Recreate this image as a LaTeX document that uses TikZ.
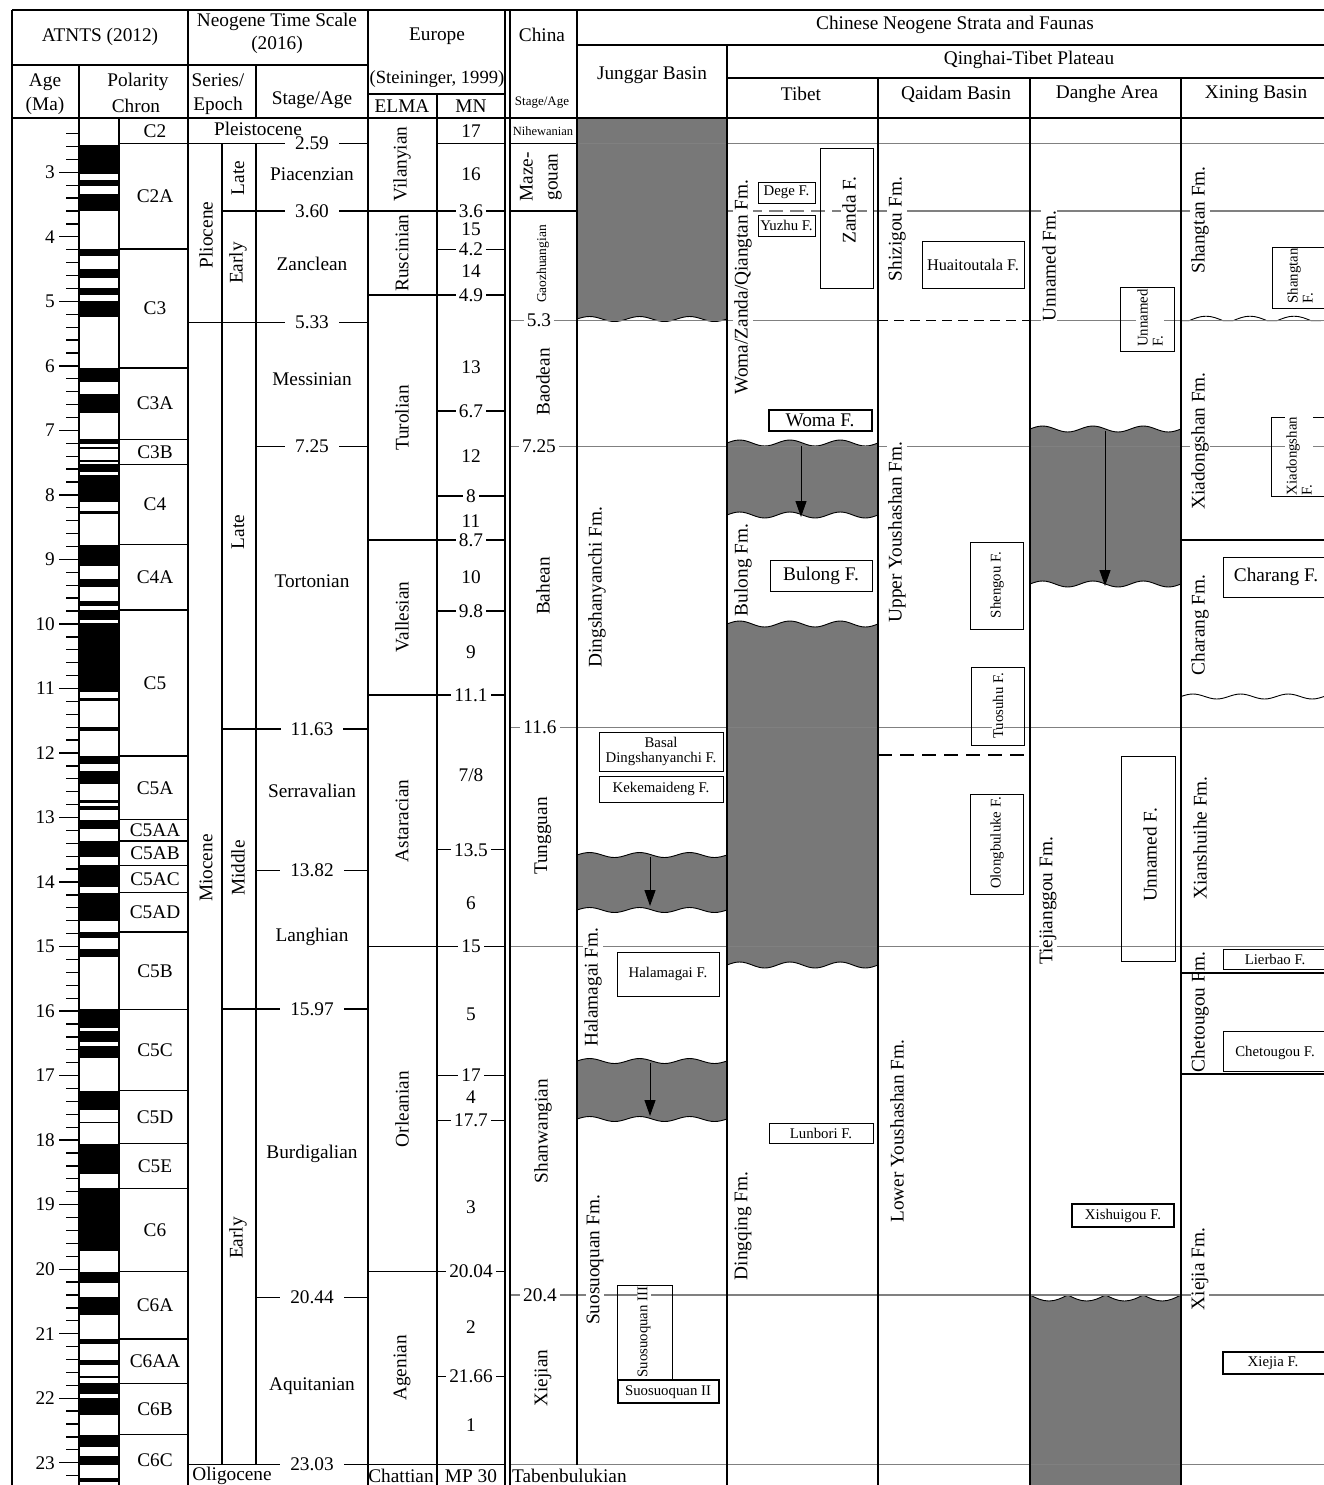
\documentclass[tikz,border=0pt]{standalone}
\usepackage{fontspec}
\setmainfont{Liberation Serif}
\usetikzlibrary{arrows.meta}
\definecolor{fillg}{gray}{0.47}
\definecolor{lineg}{gray}{0.5}
\newcommand\wavF[3]{\foreach \ww in {1,...,#1}{ sin ++(#2,-#3) cos ++(#2,#3) sin ++(#2,#3) cos ++(#2,-#3)}}
\newcommand\wavR[3]{\foreach \ww in {1,...,#1}{ sin ++(-#2,#3) cos ++(-#2,-#3) sin ++(-#2,-#3) cos ++(-#2,#3)}}
\newcommand\Ya[1]{172.3+(#1-3)*64.52}
\newcommand\bx[6][fb]{\node[#1,minimum width={(#5)-(#3)},minimum height={(#6)-(#4)}] (#2) at ({((#3)+(#5))/2},{((#4)+(#6))/2}) {};}
\begin{document}
\begin{tikzpicture}[x=1pt,y=-1pt,
  tl/.style={line width=1.3pt},
  gl/.style={draw=lineg,line width=1.1pt},
  T/.style={font=\fontsize{19.3}{21.5}\selectfont,inner sep=1pt,align=center},
  S/.style={font=\fontsize{14.8}{15}\selectfont,inner sep=1pt,align=center},
  V/.style={rotate=90},
  W/.style={fill=white},
  fb/.style={draw,line width=0.9pt,inner sep=0pt},
  fbm/.style={draw,line width=1.3pt,inner sep=0pt},
  fbt/.style={draw,line width=1.9pt,inner sep=0pt},
  arr/.style={line width=1pt,-{Triangle[length=16pt,width=11pt]}},
  wv/.style={line width=0.9pt},
  lab/.style={T,fill=white,inner xsep=10pt,inner ysep=0pt},
  labm/.style={T,fill=white,inner xsep=3pt,inner ysep=0pt}]
\useasboundingbox (0,0) rectangle (1324,1485);
\fill[white] (0,0) rectangle (1324,1485);

% ---------- gray fills with wavy edges ----------
\fill[fillg] (577,118) -- (727,118) -- (727,319) \wavR{3}{12.5}{2.5} -- cycle;
\draw[wv] (727,319) \wavR{3}{12.5}{2.5};
\fill[fillg] (577,855) \wavF{3}{12.5}{2.5} -- (727,910) \wavR{3}{12.5}{2.5} -- cycle;
\draw[wv] (577,855) \wavF{3}{12.5}{2.5};
\draw[wv] (577,910) \wavF{3}{12.5}{2.5};
\fill[fillg] (577,1061) \wavF{3}{12.5}{2.5} -- (727,1119) \wavR{3}{12.5}{2.5} -- cycle;
\draw[wv] (577,1061) \wavF{3}{12.5}{2.5};
\draw[wv] (577,1119) \wavF{3}{12.5}{2.5};
\fill[fillg] (727,443) \wavF{3}{12.58}{3} -- (878,515) \wavR{3}{12.58}{3} -- cycle;
\draw[wv] (727,443) \wavF{3}{12.58}{3};
\draw[wv] (727,515) \wavF{3}{12.58}{3};
\fill[fillg] (727,624) \wavF{3}{12.58}{3} -- (878,965) \wavR{3}{12.58}{3} -- cycle;
\draw[wv] (727,624) \wavF{3}{12.58}{3};
\draw[wv] (727,965) \wavF{3}{12.58}{3};
\fill[fillg] (1030,429) \wavF{3}{12.58}{3} -- (1181,584) \wavR{3}{12.58}{3} -- cycle;
\draw[wv] (1030,429) \wavF{3}{12.58}{3};
\draw[wv] (1030,584) \wavF{3}{12.58}{3};
\fill[fillg] (1030,1295) \foreach \ww in {1,...,4}{ sin ++(18.875,6) cos ++(18.875,-6)} -- (1181,1485) -- (1030,1485) -- cycle;
\draw[wv] (1030,1295) \foreach \ww in {1,...,4}{ sin ++(18.875,6) cos ++(18.875,-6)};
% Xining wavy unconformities
\draw[wv] (1181,320.7) -- ++(8,0) \foreach \ww in {1,2,3}{ sin ++(17,-4.5) cos ++(17,4.5) -- ++(10,0)};
\draw[wv] (1181,696.5) \wavF{3}{11.92}{2.5};

% ---------- polarity ----------
\foreach \a/\b in {2.581/3.032,3.116/3.207,3.330/3.596,4.187/4.300,4.493/4.631,4.799/4.896,4.997/5.235,6.033/6.252,6.436/6.733,7.140/7.212,7.251/7.285,7.454/7.489,7.528/7.642,7.695/8.108,8.254/8.300,8.771/9.105,9.311/9.426,9.647/9.721,9.786/9.937,9.984/11.056,11.146/11.188,11.592/11.657,12.049/12.174,12.272/12.474,12.735/12.770,12.829/12.887,13.032/13.183,13.363/13.608,13.739/14.070,14.163/14.609,14.775/14.870,15.032/15.160,15.974/16.268,16.303/16.472,16.543/16.721,17.235/17.533,17.717/17.740,18.056/18.524,18.748/19.722,20.040/20.213,20.439/20.709,21.083/21.159,21.403/21.483,21.659/21.688,21.767/21.936,21.992/22.268,22.564/22.754,22.902/23.030,23.233/23.295}
  {\fill (79,{\Ya{\a}}) rectangle (119,{\Ya{\b}});}
% age ticks
\foreach \i in {12,...,116} {\draw[tl] (66,{\Ya{\i/5}}) -- (79,{\Ya{\i/5}});}
\foreach \m in {3,...,23} {\draw[tl] (59,{\Ya{\m}}) -- (79,{\Ya{\m}});
  \node[T,anchor=east] (age\m) at (56,{\Ya{\m}}) {\m};}
% chron boundaries
\foreach \yy in {143.5,248.9,368.0,439.4,464.4,544.6,610.1,756.1,819.6,840.9,865.2,892.5,932.0,1009.4,1090.7,1143.7,1188.4,1271.7,1339.0,1383.2,1434.6}
  {\draw[tl] (119,\yy) -- (188,\yy);}
\foreach \n/\yc in {C2/130.8,C2A/196.2,C3/308.5,C3A/403.7,C3B/451.9,C4/504.5,C4A/577.4,C5/683.1,C5A/787.9,C5AA/830.3,C5AB/853.1,C5AC/878.9,C5AD/912.3,C5B/970.7,C5C/1050.1,C5D/1117.2,C5E/1166,C6/1230,C6A/1305.4,C6AA/1361.1,C6B/1408.9,C6C/1459.8}
  {\node[T] (ch\n) at (155,\yc) {\n};}

% ---------- long gray correlation lines ----------
\draw[gl] (577,143.5) -- (1324,143.5);
\draw[gl,dash pattern=on 14pt off 7pt] (727,211) -- (878,211);
\draw[gl] (878,211) -- (1324,211);
\draw[gl] (510,320.7) -- (878,320.7);
\draw[gl] (1030,320.7) -- (1324,320.7);
\draw[line width=1.3pt,dash pattern=on 10pt off 6pt] (878,320.7) -- (1030,320.7);
\draw[line width=1.5pt,dash pattern=on 14pt off 8pt] (878,755) -- (1030,755);
\foreach \yy in {446.5,727.2,946.5,1295,1464.6} {\draw[gl] (510,\yy) -- (1324,\yy);}

% ---------- table frame ----------
\draw[tl] (12,10) -- (1324,10);
\draw[tl] (12,65) -- (368,65);
\draw[tl] (368,94) -- (505,94);
\draw[tl] (577,45) -- (1324,45);
\draw[tl] (727,78) -- (1324,78);
\draw[tl] (12,118) -- (1324,118);
\draw[tl] (12,10) -- (12,1485);
\draw[tl] (79,65) -- (79,1485);
\draw[tl] (119,118) -- (119,1485);
\draw[tl] (188,10) -- (188,1485);
\draw[tl] (222,143.5) -- (222,1464.6);
\draw[tl] (256,65) -- (256,118);
\draw[tl] (256,143.5) -- (256,1464.6);
\foreach \xx in {368,505,510} {\draw[tl] (\xx,10) -- (\xx,1485);}
\draw[tl] (577,10) -- (577,1464.6);
\draw[tl] (437,94) -- (437,1485);
\draw[tl] (727,45) -- (727,1485);
\foreach \xx in {878,1030,1181} {\draw[tl] (\xx,78) -- (\xx,1485);}
\draw[tl] (510,143.5) -- (577,143.5);
\draw[tl] (510,211) -- (577,211);
\draw[tl] (1181,540.1) -- (1324,540.1);
\draw[tl] (1181,973) -- (1324,973);
\draw[tl] (1181,1074) -- (1324,1074);

% stage / MN boundaries
\draw[tl] (188,143.5) -- (368,143.5);
\draw[tl] (437,143.5) -- (505,143.5);
\draw[tl] (222,211) -- (505,211);
\draw[tl] (437,249.7) -- (505,249.7);
\draw[tl] (368,294.9) -- (505,294.9);
\draw[tl] (188,322.6) -- (368,322.6);
\draw[tl] (437,411) -- (505,411);
\draw[tl] (256,446.5) -- (368,446.5);
\draw[tl] (437,496) -- (505,496);
\draw[tl] (368,540.1) -- (505,540.1);
\draw[tl] (437,611) -- (505,611);
\draw[tl] (368,694.9) -- (505,694.9);
\draw[tl] (222,729.1) -- (368,729.1);
\draw[tl] (437,849.8) -- (505,849.8);
\draw[tl] (256,870.4) -- (368,870.4);
\draw[tl] (368,946.5) -- (505,946.5);
\draw[tl] (222,1009.1) -- (368,1009.1);
\draw[tl] (437,1075.6) -- (505,1075.6);
\draw[tl] (437,1120.7) -- (505,1120.7);
\draw[tl] (368,1271.7) -- (505,1271.7);
\draw[tl] (256,1297.5) -- (368,1297.5);
\draw[tl] (437,1376.2) -- (505,1376.2);
\draw[tl] (188,1464.6) -- (505,1464.6);

% boundary labels
\node[lab] (s259) at (312,143.5) {2.59};
\node[lab] (s360) at (312,211) {3.60};
\node[lab] (s533) at (312,322.6) {5.33};
\node[lab] (s725) at (312,446.5) {7.25};
\node[lab] (s1163) at (312,729.1) {11.63};
\node[lab] (s1382) at (312,870.4) {13.82};
\node[lab] (s1597) at (312,1009.1) {15.97};
\node[lab] (s2044) at (312,1297.5) {20.44};
\node[lab] (s2303) at (312,1464.6) {23.03};
\node[labm] (m36) at (471,211) {3.6};
\node[labm] (m42) at (471,249.7) {4.2};
\node[labm] (m49) at (471,294.9) {4.9};
\node[labm] (m67) at (471,411) {6.7};
\node[labm] (m8) at (471,496) {8};
\node[labm] (m87) at (471,540.1) {8.7};
\node[labm] (m98) at (471,611) {9.8};
\node[labm] (m111) at (471,694.9) {11.1};
\node[labm] (m135) at (471,849.8) {13.5};
\node[labm] (m15) at (471,946.5) {15};
\node[labm] (m17) at (471,1075.6) {17};
\node[labm] (m177) at (471,1120.7) {17.7};
\node[labm] (m2004) at (471,1271.7) {20.04};
\node[labm] (m2166) at (471,1376.2) {21.66};
\node[labm] (c53) at (539,320.7) {5.3};
\node[labm] (c725) at (539,446.5) {7.25};
\node[labm] (c116) at (540,727.2) {11.6};
\node[labm] (c204) at (540,1295) {20.4};

% ---------- arrows ----------
\coordinate (aJ1s) at (650,857); \coordinate (aJ1e) at (650,906);
\coordinate (aJ2s) at (650,1063); \coordinate (aJ2e) at (650,1116);
\coordinate (aTs) at (801,446); \coordinate (aTe) at (801,517);
\coordinate (aDs) at (1105,431); \coordinate (aDe) at (1105,586);
\draw[arr] (aJ1s) -- (aJ1e);
\draw[arr] (aJ2s) -- (aJ2e);
\draw[arr] (aTs) -- (aTe);
\draw[arr] (aDs) -- (aDe);

% ---------- header texts ----------
\node[T] (hATNTS) at (100,37) {ATNTS (2012)};
\node[T,font=\fontsize{19.3}{23.3}\selectfont] (hNTS) at (277,33.5) {Neogene Time Scale\\(2016)};
\node[T] (hEur) at (437,36) {Europe};
\node[T,inner sep=0pt,font=\fontsize{18.6}{20}\selectfont] (hStein) at (437,79) {(Steininger, 1999)};
\node[T] (hAge) at (45,82) {Age};
\node[T] (hMa) at (45,106) {(Ma)};
\node[T] (hPol) at (138,82) {Polarity};
\node[T] (hChron) at (136,106) {Chron};
\node[T] (hSer) at (218,80) {Series/};
\node[T] (hEpo) at (218,106) {Epoch};
\node[T] (hStage) at (312,100) {Stage/Age};
\node[T] (hELMA) at (402,106) {ELMA};
\node[T] (hMN) at (471,106) {MN};
\node[T] (hChina) at (542,35) {China};
\node[T,font=\fontsize{13}{14}\selectfont] (hCSA) at (542,103) {Stage/Age};
\node[T] (hCN) at (955,25) {Chinese Neogene Strata and Faunas};
\node[T] (hJB) at (652,75) {Junggar Basin};
\node[T] (hQTP) at (1029,60) {Qinghai-Tibet Plateau};
\node[T] (hTib) at (801,94) {Tibet};
\node[T] (hQai) at (956,94) {Qaidam Basin};
\node[T] (hDan) at (1107,94) {Danghe Area};
\node[T] (hXin) at (1256,94) {Xining Basin};

% ---------- series / stage ----------
\node[T] (tPleis) at (258,129) {Pleistocene};
\node[T,V] (tPlio) at (206,235) {Pliocene};
\node[T,V] (tPlLate) at (238,178) {Late};
\node[T,V] (tPlEarly) at (238,263) {Early};
\node[T,V] (tMio) at (206,868) {Miocene};
\node[T,V] (tMLate) at (238,532) {Late};
\node[T,V] (tMMid) at (238,868) {Middle};
\node[T,V] (tMEarly) at (238,1238) {Early};
\node[T] (tOlig) at (232,1476) {Oligocene};
\node[T] (tPiac) at (312,174) {Piacenzian};
\node[T] (tZanc) at (312,264) {Zanclean};
\node[T] (tMess) at (312,379) {Messinian};
\node[T] (tTort) at (312,581) {Tortonian};
\node[T] (tSerr) at (312,791) {Serravalian};
\node[T] (tLang) at (312,937) {Langhian};
\node[T] (tBurd) at (312,1154) {Burdigalian};
\node[T] (tAqui) at (312,1386) {Aquitanian};

% ---------- ELMA / MN ----------
\node[T,V] (eVil) at (402,164) {Vilanyian};
\node[T,V] (eRus) at (402,253) {Ruscinian};
\node[T,V] (eTur) at (402,418) {Turolian};
\node[T,V] (eVal) at (402,617) {Vallesian};
\node[T,V] (eAst) at (402,821) {Astaracian};
\node[T,V] (eOrl) at (402,1109) {Orleanian};
\node[T,V] (eAge) at (402,1368) {Agenian};
\node[T] (eChat) at (401,1476) {Chattian};
\foreach \n/\yc in {17/131,16/174,15/229,14/271,13/367,12/456,11/521,10/577,9/652,1/1425,2/1327,3/1207,4/1097,5/1014,6/903}
  {\node[T] (mn\n) at (471,\yc) {\n};}
\node[T] (mn78) at (471,775) {7/8};
\node[T] (mnMP) at (471,1476) {MP 30};

% ---------- China stages ----------
\node[T,font=\fontsize{12.5}{13}\selectfont] (tNihe) at (543,131) {Nihewanian};
\node[T,V,font=\fontsize{19.3}{25}\selectfont] (tMaze) at (541,177) {Maze-\\gouan};
\node[T,V,font=\fontsize{13.5}{14}\selectfont] (tGaoz) at (543,264) {Gaozhuangian};
\node[T,V] (tBaod) at (543,382) {Baodean};
\node[T,V] (tBahe) at (543,586) {Bahean};
\node[T,V] (tTung) at (543,836) {Tungguan};
\node[T,V] (tShanw) at (543,1131) {Shanwangian};
\node[T,V] (tXiejian) at (543,1378) {Xiejian};
\node[T,anchor=west] (tTaben) at (511,1476) {Tabenbulukian};

% ---------- formation labels ----------
\node[T,V,W] (fDing) at (597,587) {Dingshanyanchi Fm.};
\node[T,V,W] (fHala) at (593,987) {Halamagai Fm.};
\node[T,V,W] (fSuos) at (595,1260) {Suosuoquan Fm.};
\node[T,V,W] (fWoma) at (743,287) {Woma/Zanda/Qiangtan Fm.};
\node[T,V,W] (fBulong) at (743,570) {Bulong Fm.};
\node[T,V,W] (fDingq) at (743,1226) {Dingqing Fm.};
\node[T,V,W] (fShiz) at (897,229) {Shizigou Fm.};
\node[T,V,W] (fUpYou) at (897,532) {Upper Youshashan Fm.};
\node[T,V,W] (fLoYou) at (897,1131) {Lower Youshashan Fm.};
\node[T,V,W] (fUnFm) at (1049,266) {Unnamed Fm.};
\node[T,V,W] (fTiej) at (1048,901) {Tiejianggou Fm.};
\node[T,V,W] (fShangt) at (1200,220) {Shangtan Fm.};
\node[T,V,W] (fXiad) at (1200,441) {Xiadongshan Fm.};
\node[T,V,W] (fChar) at (1200,625) {Charang Fm.};
\node[T,V,W] (fXians) at (1200,838) {Xianshuihe Fm.};
\node[T,V] (fChet) at (1200,1012) {Chetougou Fm.};
\node[T,V,W] (fXiej) at (1200,1269) {Xiejia Fm.};

% ---------- fauna boxes ----------
\bx{bBasal}{599}{732}{723}{771}
\node[S] (tBasal) at (661,751.5) {Basal\\Dingshanyanchi F.};
\bx{bKeke}{599}{776}{723}{802}
\node[S] (tKeke) at (661,789) {Kekemaideng F.};
\bx{bHala}{617}{952}{719}{996}
\node[S] (tHala) at (668,974) {Halamagai F.};
\bx{bSuo3}{617}{1285}{672}{1380}
\node[S,V,W] (tSuo3) at (644,1332) {Suosuoquan III};
\bx[fbt]{bSuo2}{618}{1380}{719}{1403}
\node[S] (tSuo2) at (668,1392) {Suosuoquan II};

\bx{bDege}{758}{182}{815}{203}
\node[S] (tDege) at (786.5,192.5) {Dege F.};
\bx{bYuzhu}{758}{215}{815}{236}
\node[S] (tYuzhu) at (786.5,225.5) {Yuzhu F.};
\bx{bZanda}{820}{148}{873}{288}
\node[T,V,W] (tZanda) at (849,210) {Zanda F.};
\bx[fbm]{bWomaF}{769}{410}{872}{431}
\node[T] (tWomaF) at (820,420.5) {Woma F.};
\bx{bBulongF}{770}{560}{872}{591}
\node[T] (tBulongF) at (821,575.5) {Bulong F.};
\bx{bLunb}{769}{1123}{873}{1143}
\node[S] (tLunb) at (821,1133) {Lunbori F.};

\bx{bHuai}{922}{241}{1024}{288}
\node[S,font=\fontsize{16.3}{17}\selectfont] (tHuai) at (973,264.5) {Huaitoutala F.};
\bx{bShengou}{970}{542}{1023}{629}
\node[S,V] (tShengou) at (997,585) {Shengou F.};
\bx{bTuos}{971}{667}{1024}{745}
\node[S,V,W] (tTuos) at (998,706) {Tuosuhu F.};
\bx{bOlong}{970}{794}{1023}{894}
\node[S,V] (tOlong) at (997,843) {Olongbuluke F.};

\bx{bUnS}{1120}{287}{1174}{351}
\node[S,V,W,align=left] (tUnS) at (1150,318) {Unnamed\\F.};
\bx{bUnB}{1121}{756}{1175}{961}
\node[T,V,W] (tUnB) at (1150,855) {Unnamed F.};
\bx[fbt]{bXishui}{1072}{1204}{1174}{1227}
\node[S] (tXishui) at (1123,1216) {Xishuigou F.};

\bx{bShangF}{1272}{247}{1332}{308}
\node[S,V,align=left] (tShangF) at (1300,276) {Shangtan\\F.};
\bx{bXiadF}{1271}{417}{1332}{496}
\node[S,V,W,align=left] (tXiadF) at (1299,456) {Xiadongshan\\F.};
\bx{bCharF}{1223}{557}{1332}{597}
\node[T] (tCharF) at (1276,577) {Charang F.};
\bx{bLier}{1223}{949}{1332}{969}
\node[S] (tLier) at (1275,959) {Lierbao F.};
\bx{bChetF}{1223}{1031}{1332}{1071}
\node[S] (tChetF) at (1275,1053) {Chetougou F.};
\bx[fbt]{bXiejF}{1223}{1352}{1332}{1374}
\node[S] (tXiejF) at (1273,1363) {Xiejia F.};
\end{tikzpicture}
\end{document}
